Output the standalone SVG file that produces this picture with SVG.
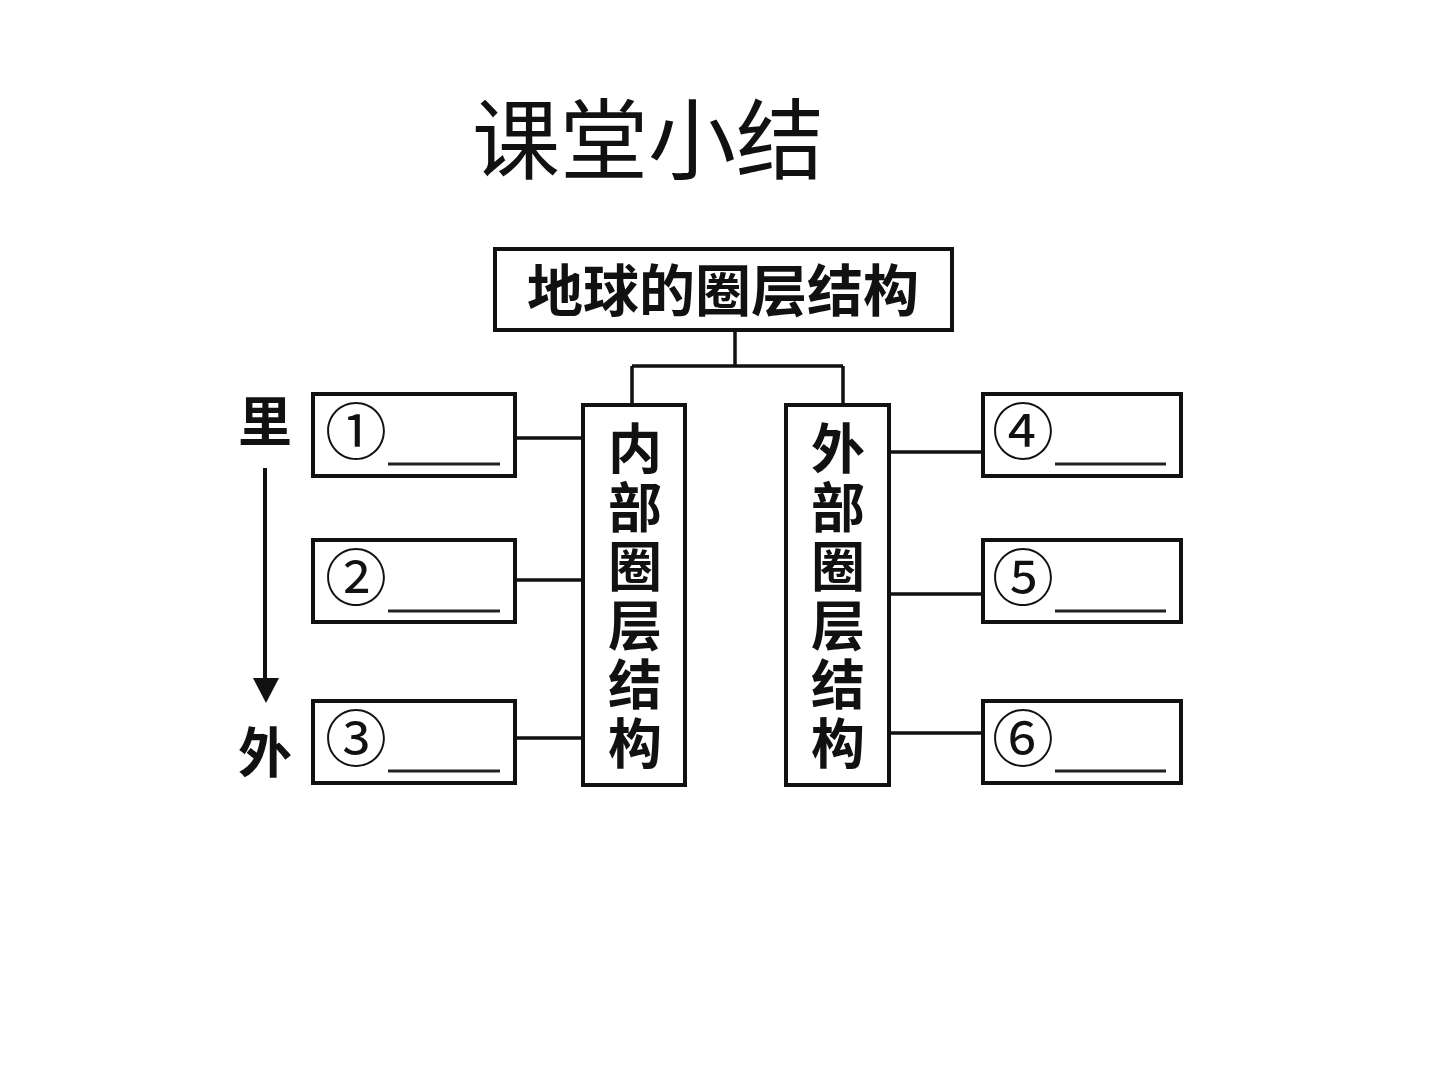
<svg xmlns="http://www.w3.org/2000/svg" width="1440" height="1080" viewBox="0 0 1440 1080">
<style>
.box{fill:#fff;stroke:#111;stroke-width:4}
.ln{stroke:#111;stroke-width:3.5;fill:none}
.ul{stroke:#222;stroke-width:3}
.cjk{font-family:"Noto Sans CJK SC","Noto Sans CJK TC",sans-serif;fill:#111}
.num{font-family:"Noto Sans CJK SC",sans-serif;font-size:62px;fill:#111}
.vt{font-family:"Noto Sans CJK SC",sans-serif;font-size:54px;font-weight:bold;fill:#111;writing-mode:vertical-rl;letter-spacing:5px}
</style>
<rect width="1440" height="1080" fill="#fff"/>
<text class="cjk" x="648" y="172" font-size="88" text-anchor="middle">课堂小结</text>

<g id="connectors">
<path class="ln" d="M735,330 V366 M632,366 H843 M632,366 V405 M843,366 V405"/>
<path class="ln" d="M515,438 H583 M515,580 H583 M515,738 H583"/>
<path class="ln" d="M889,452 H983 M889,594 H983 M889,733 H983"/>
<line x1="265" y1="468" x2="265" y2="690" stroke="#111" stroke-width="4"/>
<path d="M253,678 L279,678 L266,703 Z" fill="#111"/>
</g>

<g id="root">
<rect class="box" x="495" y="249" width="457" height="81"/>
<text class="cjk" x="723" y="311" font-size="56" font-weight="bold" text-anchor="middle">地球的圈层结构</text>
</g>

<g id="inner">
<rect class="box" x="583" y="405" width="102" height="380"/>
<text class="vt" x="635" y="421">内部圈层结构</text>
</g>

<g id="outer">
<rect class="box" x="786" y="405" width="103" height="380"/>
<text class="vt" x="838" y="421">外部圈层结构</text>
</g>

<g id="n1">
<rect class="box" x="313" y="394" width="202" height="82"/>
<text class="num" x="325" y="455">①</text>
<line class="ul" x1="388" y1="464" x2="500" y2="464"/>
</g>
<g id="n2">
<rect class="box" x="313" y="540" width="202" height="82"/>
<text class="num" x="325" y="601">②</text>
<line class="ul" x1="388" y1="611" x2="500" y2="611"/>
</g>
<g id="n3">
<rect class="box" x="313" y="701" width="202" height="82"/>
<text class="num" x="325" y="762">③</text>
<line class="ul" x1="388" y1="771" x2="500" y2="771"/>
</g>
<g id="n4">
<rect class="box" x="983" y="394" width="198" height="82"/>
<text class="num" x="992" y="455">④</text>
<line class="ul" x1="1055" y1="464" x2="1166" y2="464"/>
</g>
<g id="n5">
<rect class="box" x="983" y="540" width="198" height="82"/>
<text class="num" x="992" y="601">⑤</text>
<line class="ul" x1="1055" y1="611" x2="1166" y2="611"/>
</g>
<g id="n6">
<rect class="box" x="983" y="701" width="198" height="82"/>
<text class="num" x="992" y="762">⑥</text>
<line class="ul" x1="1055" y1="771" x2="1166" y2="771"/>
</g>

<g id="side">
<text class="cjk" x="265" y="442" font-size="54" font-weight="bold" text-anchor="middle">里</text>
<text class="cjk" x="265" y="773" font-size="54" font-weight="bold" text-anchor="middle">外</text>
</g>
</svg>
